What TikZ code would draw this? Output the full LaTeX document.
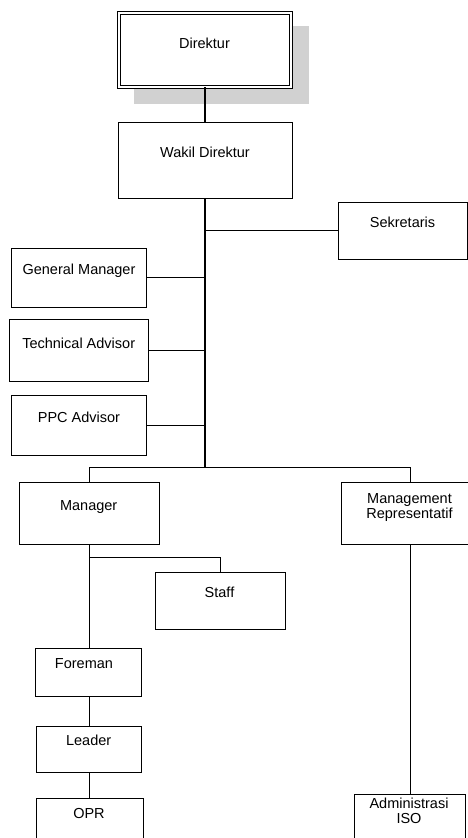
\documentclass[tikz,border=0pt]{standalone}
\usepackage{fontspec}
\setmainfont{Liberation Sans}
\begin{document}
\begin{tikzpicture}[x=1pt,y=-1pt,
  box/.style={draw=black,line width=1pt,fill=white,rectangle,inner sep=0pt},
  lbl/.style={anchor=north,inner sep=0pt,align=center,font=\fontsize{14.5}{15}\selectfont},
  conn/.style={draw=black,line width=1pt},
  trunk/.style={draw=black,line width=2pt}]
\useasboundingbox (0,0) rectangle (468,838);
\clip (0,0) rectangle (468,838);
% shadow
\fill[black!18] (134,26) rectangle (309,104);
% boxes
\node[box,double,double distance=2pt,line width=0.8pt,minimum width=172pt,minimum height=74pt] (dir) at (205,50) {};
\node[box,minimum width=174pt,minimum height=76pt] (wak) at (205,160) {};
\node[box,minimum width=129pt,minimum height=57pt] (sek) at (402.5,230.5) {};
\node[box,minimum width=135pt,minimum height=59pt] (gm) at (78.5,277.5) {};
\node[box,minimum width=139pt,minimum height=62pt] (ta) at (78.5,350) {};
\node[box,minimum width=135pt,minimum height=60pt] (ppc) at (78.5,425) {};
\node[box,minimum width=140pt,minimum height=62pt] (mgr) at (89,513) {};
\node[box,minimum width=137pt,minimum height=62pt] (mr) at (409.5,513) {};
\node[box,minimum width=130pt,minimum height=57pt] (stf) at (220,600.5) {};
\node[box,minimum width=106pt,minimum height=48pt] (fore) at (88,672) {};
\node[box,minimum width=105pt,minimum height=46pt] (lead) at (88.5,749) {};
\node[box,anchor=north,minimum width=107pt,minimum height=60pt] (opr) at (89.5,798) {};
\node[box,anchor=north,minimum width=111pt,minimum height=60pt] (adm) at (409.5,794) {};
% labels
\node[lbl] (tdir) at (204.5,38) {Direktur};
\node[lbl] (twak) at (205,147) {Wakil Direktur};
\node[lbl] (tsek) at (402.5,217) {Sekretaris};
\node[lbl] (tgm) at (79,264) {General Manager};
\node[lbl] (tta) at (78.7,338) {Technical Advisor};
\node[lbl] (tppc) at (79,412) {PPC Advisor};
\node[lbl] (tmgr) at (88.7,500) {Manager};
\node[lbl] (tmr) at (409.5,493) {Management\\Representatif};
\node[lbl] (tstf) at (219.5,587) {Staff};
\node[lbl] (tfore) at (84,658) {Foreman};
\node[lbl] (tlead) at (88.7,735) {Leader};
\node[lbl] (topr) at (89,808) {OPR};
\node[lbl] (tadm) at (409,798) {Administrasi\\ISO};
% connectors
\coordinate (tb) at (205,467);
\coordinate (jl) at (89,467);
\coordinate (jr) at (410,467);
\coordinate (sb) at (89,557);
\draw[conn,line width=1.3pt] (dir.south) -- (wak.north);
\draw[trunk] (wak.south) -- (tb);
\draw[conn] (sek.west) -- (sek.west -| tb);
\draw[conn] (gm.east) -- (gm.east -| tb);
\draw[conn] (ta.east) -- (ta.east -| tb);
\draw[conn] (ppc.east) -- (ppc.east -| tb);
\draw[conn] (jl |- mgr.north) -- (jl) -- (jr) -- (jr |- mr.north);
\draw[conn] (jl |- mgr.south) -- (jl |- fore.north);
\draw[conn] (sb) -- (sb -| stf.north) -- (stf.north);
\draw[conn] (jl |- fore.south) -- (jl |- lead.north);
\draw[conn] (jl |- lead.south) -- (jl |- opr.north);
\draw[conn] (jr |- mr.south) -- (jr |- adm.north);
\end{tikzpicture}
\end{document}
